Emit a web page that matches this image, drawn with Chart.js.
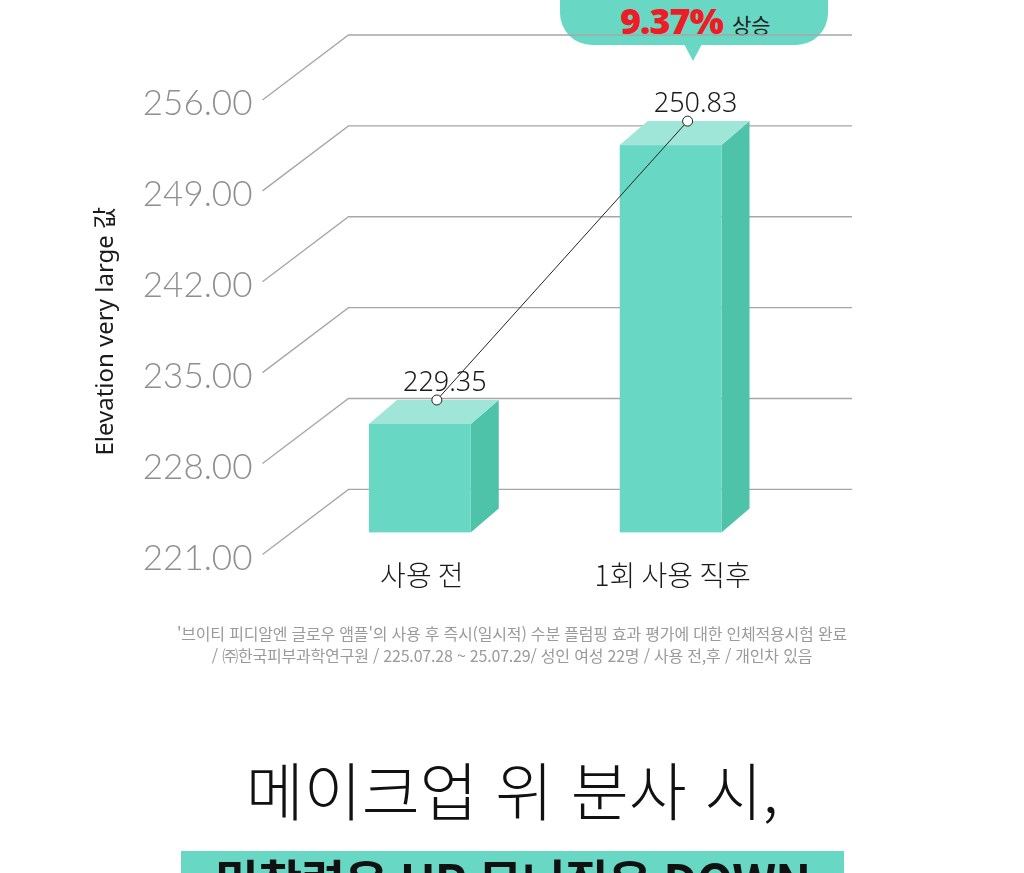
<!DOCTYPE html>
<html lang="ko">
<head>
<meta charset="UTF-8">
<title>사용 전 / 1회 사용 직후</title>
<script src="https://cdn.jsdelivr.net/npm/chart.js@4.4.0/dist/chart.umd.min.js"></script>
<style>
  body { margin: 0; background: #fff; font-family: 'Noto Sans CJK KR', 'Noto Sans', sans-serif; }
  #page { position: relative; width: 1024px; height: 873px; overflow: hidden; }
  #wrap { position: absolute; left: 0; top: 0; width: 1024px; height: 873px; }
  .bubble { position: absolute; left: 560px; top: -50px; width: 268px; height: 95px; background: #68d8c4; border-radius: 32px; }
  .bubble:after { content: ''; position: absolute; left: 124px; bottom: -16px; border-left: 9px solid transparent; border-right: 9px solid transparent; border-top: 17px solid #68d8c4; }
  .bubble-text { position: absolute; left: 620px; top: 31px; white-space: nowrap; }
  .bubble-text span { position: absolute; bottom: 0; line-height: 1; }
  .pct { left: 0; font-family: 'Noto Sans', sans-serif; font-weight: 900; font-size: 36px; color: #ee1c25; letter-spacing: -1px; transform: translateY(8px); }
  .up { left: 112px; font-size: 21px; color: #222; transform: translateY(4px); }
  .note { position: absolute; left: 0; width: 1024px; top: 622px; text-align: center; font-size: 16px; line-height: 22px; color: #9a9a9a; letter-spacing: -0.2px; }
  .headline { position: absolute; left: 0; width: 1024px; top: 748px; text-align: center; font-size: 63px; font-weight: 300; color: #111; line-height: 80px; }
  .band { position: absolute; left: 181px; top: 851px; width: 663px; height: 70px; background: #68d8c4; }
  .band div { text-align: center; font-size: 48px; font-weight: 700; color: #111; line-height: 1; margin-top: 4px; letter-spacing: -1px; }
</style>
</head>
<body>
<div id="page">
  <div class="bubble"></div>
  <div class="bubble-text"><span class="pct">9.37%</span><span class="up">상승</span></div>
  <div id="wrap"><canvas id="myChart"></canvas></div>
  <div class="note">'브이티 피디알엔 글로우 앰플'의 사용 후 즉시(일시적) 수분 플럼핑 효과 평가에 대한 인체적용시험 완료<br>/ ㈜한국피부과학연구원 / 225.07.28 ~ 25.07.29/ 성인 여성 22명 / 사용 전,후 / 개인차 있음</div>
  <div class="headline">메이크업 위 분사 시,</div>
  <div class="band"><div>밀착력은 UP 무너짐은 DOWN</div></div>
</div>

<script>
// data
const categories = ['사용 전', '1회 사용 직후'];
const values = [229.35, 250.83];
const yTicks = [221, 228, 235, 242, 249, 256];

// 3D look: front face shift, box depth, back wall shift
const FACE = { dx: 32, dy: -26 };
const DEPTH = { dx: 28, dy: -24 };
const WALL = { dx: 86, dy: -69 };

const fakeGrid = {
  id: 'fakeGrid',
  beforeDatasetsDraw(chart) {
    const { ctx, chartArea, scales } = chart;
    ctx.save();
    ctx.strokeStyle = '#a6a6a6';
    ctx.lineWidth = 1.3;
    yTicks.forEach(v => {
      const y = scales.y.getPixelForValue(v);
      ctx.beginPath();
      ctx.moveTo(chartArea.left, y - 4);
      ctx.lineTo(chartArea.left + WALL.dx, y + WALL.dy);
      ctx.lineTo(chartArea.right + WALL.dx + 2, y + WALL.dy);
      ctx.stroke();
    });
    ctx.restore();
  }
};

const boxes = {
  id: 'boxes',
  afterDatasetsDraw(chart) {
    const { ctx } = chart;
    const meta = chart.getDatasetMeta(0);
    const tops = [];
    ctx.save();
    meta.data.forEach(bar => {
      const l = bar.x - bar.width / 2 + FACE.dx;
      const r = bar.x + bar.width / 2 + FACE.dx;
      const t = bar.y + FACE.dy;
      const b = bar.base + FACE.dy;
      // side
      ctx.fillStyle = '#4fc2aa';
      ctx.beginPath();
      ctx.moveTo(r, t); ctx.lineTo(r + DEPTH.dx, t + DEPTH.dy);
      ctx.lineTo(r + DEPTH.dx, b + DEPTH.dy); ctx.lineTo(r, b);
      ctx.closePath(); ctx.fill();
      // top
      ctx.fillStyle = '#a0e6d8';
      ctx.beginPath();
      ctx.moveTo(l, t); ctx.lineTo(l + DEPTH.dx, t + DEPTH.dy);
      ctx.lineTo(r + DEPTH.dx, t + DEPTH.dy); ctx.lineTo(r, t);
      ctx.closePath(); ctx.fill();
      // front
      ctx.fillStyle = '#68d8c4';
      ctx.fillRect(l, t, r - l, b - t);
      tops.push({ x: (l + r) / 2 + DEPTH.dx / 2 + 3, y: t + DEPTH.dy });
    });
    // connecting line and markers
    ctx.strokeStyle = '#222';
    ctx.lineWidth = 1;
    ctx.beginPath();
    tops.forEach((p, i) => i ? ctx.lineTo(p.x, p.y) : ctx.moveTo(p.x, p.y));
    ctx.stroke();
    ctx.font = '300 27px "Noto Sans", sans-serif';
    ctx.textAlign = 'center';
    ctx.textBaseline = 'alphabetic';
    tops.forEach((p, i) => {
      ctx.beginPath();
      ctx.arc(p.x, p.y, 5, 0, Math.PI * 2);
      ctx.fillStyle = '#fff'; ctx.fill();
      ctx.strokeStyle = '#222'; ctx.stroke();
      ctx.fillStyle = '#1a1a1a';
      ctx.fillText(values[i].toFixed(2), p.x + 8, p.y - 9);
    });
    ctx.restore();
  }
};

const ctx = document.getElementById('myChart').getContext('2d');
new Chart(ctx, {
  type: 'bar',
  data: {
    labels: categories,
    datasets: [{
      data: values,
      base: yTicks[0],
      backgroundColor: 'rgba(0,0,0,0)',
      borderWidth: 0,
      categoryPercentage: 1,
      barPercentage: 0.406
    }]
  },
  options: {
    responsive: true,
    maintainAspectRatio: false,
    animation: false,
    layout: { padding: { left: 78, right: 260, top: 104, bottom: 281 } },
    plugins: { legend: { display: false }, tooltip: { enabled: false } },
    scales: {
      x: {
        grid: { display: false, drawTicks: false },
        border: { display: false },
        ticks: { padding: 0, labelOffset: 34, color: '#1a1a1a', font: { family: "'Noto Sans CJK KR'", size: 28, weight: '300' } }
      },
      y: {
        min: 221, max: 256,
        afterBuildTicks: scale => { scale.ticks = yTicks.map(v => ({ value: v })); },
        grid: { display: false, drawTicks: false },
        border: { display: false },
        ticks: { padding: 10, color: '#8e8e8e', font: { family: "'Lato', 'Noto Sans'", size: 35, weight: '300' }, callback: v => Number(v).toFixed(2) },
        title: { display: true, text: 'Elevation very large 값', color: '#1a1a1a', padding: { top: 14, bottom: 12 }, font: { family: "'Noto Sans', 'Noto Sans CJK KR'", size: 24 } }
      }
    }
  },
  plugins: [fakeGrid, boxes]
});
</script>
</body>
</html>
